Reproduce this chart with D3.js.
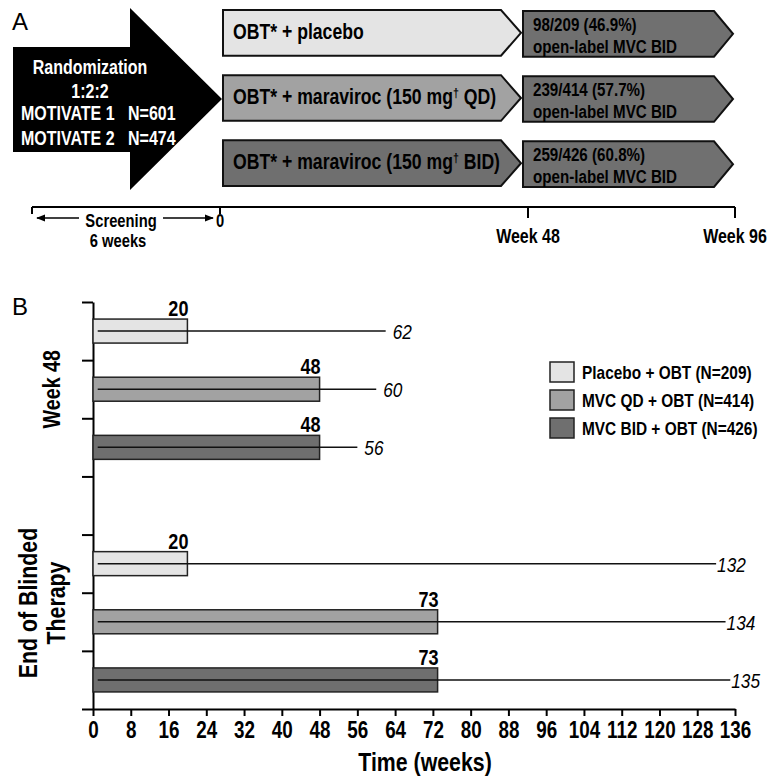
<!DOCTYPE html>
<html>
<head>
<meta charset="utf-8">
<script src="https://cdn.jsdelivr.net/npm/d3@7"></script>
<style>
  body { margin: 0; background: #fff; }
  svg text { font-family: "Liberation Sans", Arial, sans-serif; }
</style>
</head>
<body>
<svg id="chart" width="768" height="781"></svg>
<script>
// panel A
var armText = [
  ["OBT* + placebo", "", ""],
  ["OBT* + maraviroc (150 mg", "\u2020", " QD)"],
  ["OBT* + maraviroc (150 mg", "\u2020", " BID)"]
];
var switchedText = ["98/209 (46.9%)", "239/414 (57.7%)", "259/426 (60.8%)"];
var timelineWeeks = [-6, 0, 48, 96];
var timelineLabels = ["", "0", "Week 48", "Week 96"];

// panel B
var treatments = ["Placebo + OBT (N=209)", "MVC QD + OBT (N=414)", "MVC BID + OBT (N=426)"];
var groups = ["Week 48", "End of Blinded Therapy"];
var medianWeek48 = [20, 48, 48];
var maxWeek48 = [62, 60, 56];
var medianEOB = [20, 73, 73];
var maxEOB = [132, 134, 135];
var minWeeks = [1, 1, 1];
var xTicks = d3.range(0, 137, 8);

var fills = ["#e4e4e4", "#a2a2a2", "#6f6f6f"];
var NARROW = 0.82;

var svg = d3.select('#chart');

// condensed text: Arial squeezed like Arial Narrow
function label(parent, x, y, txt, size, bold, anchor, extra) {
  var t = parent.append('text')
      .attr('transform', 'translate(' + x + ',' + y + ')' + (extra || '') + ' scale(' + NARROW + ',1)')
      .attr('text-anchor', anchor || 'start')
      .style('font-size', size + 'px')
      .style('font-weight', bold ? 'bold' : 'normal');
  if (txt !== null) t.text(txt);
  return t;
}

// ---------- panel A ----------
svg.append('text').attr('x', 12).attr('y', 30).style('font-size', '24px').text('A');

var tl = d3.scaleLinear().domain(timelineWeeks).range([32, 220, 528, 735]);
var rowY = d3.scaleBand().domain([0, 1, 2]).range([10, 186]).paddingInner(0.3);

// big randomization arrow
svg.append('path')
    .attr('d', 'M13,47 L130,47 L130,8 L222,99 L130,190 L130,152 L13,152 Z')
    .attr('fill', '#000');

var rnd = svg.append('g').attr('fill', '#fff');
label(rnd, 90, 74, 'Randomization', 19.5, true, 'middle');
label(rnd, 90, 98, '1:2:2', 19.5, true, 'middle');
label(rnd, 21, 120, 'MOTIVATE 1', 19.5, true);
label(rnd, 128, 120, 'N=601', 19.5, true);
label(rnd, 21, 145, 'MOTIVATE 2', 19.5, true);
label(rnd, 128, 145, 'N=474', 19.5, true);

function pentagon(x0, x1, y0, h, d) {
  return 'M' + x0 + ',' + y0 + ' L' + (x1 - d) + ',' + y0 + ' L' + x1 + ',' + (y0 + h / 2) +
    ' L' + (x1 - d) + ',' + (y0 + h) + ' L' + x0 + ',' + (y0 + h) + ' Z';
}

armText.forEach(function (t, i) {
  var y0 = rowY(i), h = rowY.bandwidth();
  svg.append('path')
      .attr('d', pentagon(tl(0) + 3, tl(48) - 7, y0, h, 20))
      .attr('fill', fills[i]).attr('stroke', '#111').attr('stroke-width', 2);
  var tx = label(svg, tl(0) + 13, y0 + 29, null, 21.5, true);
  tx.append('tspan').text(t[0]);
  if (t[1]) {
    tx.append('tspan').attr('dy', -7).style('font-size', '13px').attr('fill', '#000').text(t[1]);
    tx.append('tspan').attr('dy', 7).text(t[2]);
  }

  svg.append('path')
      .attr('d', pentagon(tl(48) - 5, tl(96) - 2, y0 + 1, h, 19))
      .attr('fill', '#707070').attr('stroke', '#111').attr('stroke-width', 2);
  label(svg, tl(48) + 5, y0 + 21, switchedText[i], 18.5, true);
  label(svg, tl(48) + 5, y0 + 43, 'open-label MVC BID', 18.5, true);
});

// timeline
var tlg = svg.append('g').attr('stroke', '#000').attr('stroke-width', 2);
tlg.append('line').attr('x1', tl(-6)).attr('x2', tl(96)).attr('y1', 207).attr('y2', 207);
tlg.selectAll('.tk').data(timelineWeeks).enter().append('line')
    .attr('x1', function (d) { return tl(d); }).attr('x2', function (d) { return tl(d); })
    .attr('y1', 207).attr('y2', function (d) { return d > 0 ? 218 : 214; });

timelineWeeks.forEach(function (d, i) {
  if (timelineLabels[i]) label(svg, tl(d), d > 0 ? 243 : 227, timelineLabels[i], d > 0 ? 19.5 : 18, true, 'middle');
});

label(svg, 121, 227, 'Screening', 18, true, 'middle');
label(svg, 118, 247, '6 weeks', 18, true, 'middle');

svg.append('defs').append('marker').attr('id', 'ah')
    .attr('viewBox', '0 0 10 10').attr('refX', 9).attr('refY', 5)
    .attr('markerWidth', 6).attr('markerHeight', 6).attr('orient', 'auto-start-reverse')
    .append('path').attr('d', 'M0,1 L10,5 L0,9 Z').attr('fill', '#000');
svg.append('line').attr('x1', 79).attr('x2', 37).attr('y1', 218).attr('y2', 218)
    .attr('stroke', '#000').attr('stroke-width', 1.5).attr('marker-end', 'url(#ah)');
svg.append('line').attr('x1', 163).attr('x2', 213).attr('y1', 218).attr('y2', 218)
    .attr('stroke', '#000').attr('stroke-width', 1.5).attr('marker-end', 'url(#ah)');

// ---------- panel B ----------
svg.append('text').attr('x', 12).attr('y', 315).style('font-size', '24px').text('B');

var x = d3.scaleLinear().domain([0, 136]).range([93, 735]);
var slot = d3.scaleLinear().domain([0, 7]).range([302, 709]);

svg.append('g').attr('transform', 'translate(0,' + slot(7) + ')')
    .call(d3.axisBottom(x).tickValues(xTicks).tickSize(7).tickSizeOuter(0))
    .call(function (g) {
      g.select('.domain').attr('stroke-width', 2);
      g.selectAll('.tick line').attr('stroke-width', 2);
      g.selectAll('.tick text').attr('dy', 0).attr('y', 29)
          .attr('transform', 'scale(' + NARROW + ',1)')
          .style('font-family', '"Liberation Sans", Arial, sans-serif')
          .style('font-weight', 'bold').style('font-size', '23px').attr('fill', '#000');
    });

svg.append('g').attr('transform', 'translate(' + x(0) + ',0)')
    .call(d3.axisLeft(slot).tickValues(d3.range(0, 8)).tickFormat('').tickSize(11).tickSizeOuter(0))
    .call(function (g) {
      g.select('.domain').attr('stroke-width', 2);
      g.selectAll('.tick line').attr('stroke-width', 2);
    });

var rows = [];
medianWeek48.forEach(function (m, i) {
  rows.push({ slot: i, median: m, max: maxWeek48[i], min: minWeeks[i], t: i });
});
medianEOB.forEach(function (m, i) {
  rows.push({ slot: i + 4, median: m, max: maxEOB[i], min: minWeeks[i], t: i });
});

var barH = 24;
rows.forEach(function (d) {
  var cy = slot(d.slot + 0.5);
  svg.append('rect')
      .attr('x', x(0)).attr('y', cy - barH / 2)
      .attr('width', x(d.median) - x(0)).attr('height', barH)
      .attr('fill', fills[d.t]).attr('stroke', '#222').attr('stroke-width', 1.5);
  svg.append('line')
      .attr('x1', x(d.min)).attr('x2', x(d.max)).attr('y1', cy).attr('y2', cy)
      .attr('stroke', '#111').attr('stroke-width', 1.5);
  label(svg, x(d.median) + 1, cy - barH / 2 - 3, d.median, 22, true, 'end');
  label(svg, x(d.max) + (d.max < 100 ? 7 : 1), cy + 8, d.max, 21, false, 'start')
      .style('font-style', 'italic');
});

// group labels
label(svg, 60, slot(1.5), groups[0], 24, true, 'middle', ' rotate(-90)');
var eob = label(svg, 0, 603, null, 26, true, 'middle', ' rotate(-90)');
eob.append('tspan').attr('x', 0).attr('y', 37).text('End of Blinded');
eob.append('tspan').attr('x', 0).attr('y', 65).text('Therapy');

// x title
label(svg, (x(0) + x(136)) / 2 + 11, 771, 'Time (weeks)', 26, true, 'middle');

// legend
var lg = svg.append('g').attr('transform', 'translate(550,362)');
treatments.forEach(function (t, i) {
  lg.append('rect').attr('x', 0).attr('y', i * 28).attr('width', 24).attr('height', 20)
      .attr('fill', fills[i]).attr('stroke', '#222').attr('stroke-width', 1.5);
  label(lg, 32, i * 28 + 17, t, 18.8, true);
});
</script>
</body>
</html>
